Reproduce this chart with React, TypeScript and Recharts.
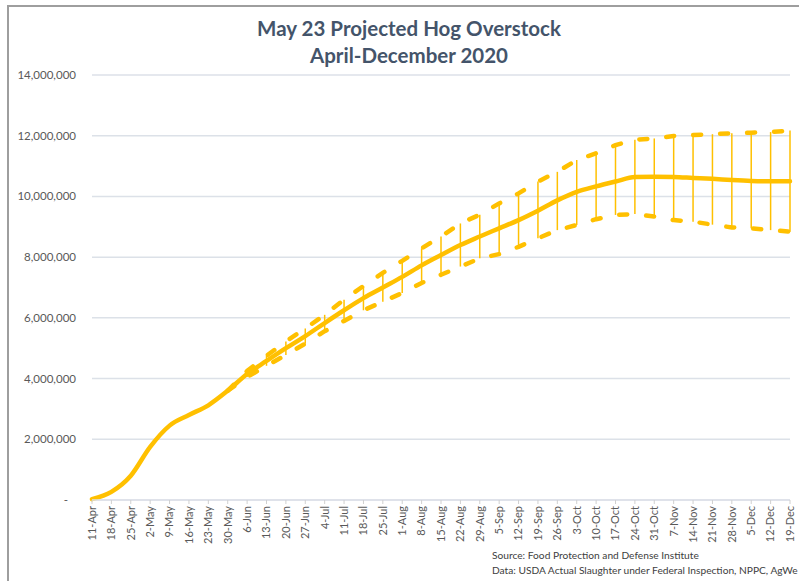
import { LineChart, Line, XAxis, YAxis, CartesianGrid, ErrorBar } from 'recharts';

const weeks = [
  '11-Apr', '18-Apr', '25-Apr', '2-May', '9-May', '16-May', '23-May', '30-May',
  '6-Jun', '13-Jun', '20-Jun', '27-Jun', '4-Jul', '11-Jul', '18-Jul', '25-Jul',
  '1-Aug', '8-Aug', '15-Aug', '22-Aug', '29-Aug', '5-Sep', '12-Sep', '19-Sep',
  '26-Sep', '3-Oct', '10-Oct', '17-Oct', '24-Oct', '31-Oct', '7-Nov', '14-Nov',
  '21-Nov', '28-Nov', '5-Dec', '12-Dec', '19-Dec',
];

// projected overstock (head)
const projected = [
  30000, 270000, 800000, 1750000, 2450000, 2800000, 3120000, 3600000,
  4150000, 4580000, 5000000, 5400000, 5830000, 6250000, 6650000, 7000000,
  7350000, 7730000, 8070000, 8400000, 8680000, 8950000, 9220000, 9530000,
  9870000, 10150000, 10330000, 10490000, 10640000, 10650000, 10640000, 10610000,
  10580000, 10540000, 10510000, 10500000, 10500000,
];

const upperBound = [
  null, null, null, null, null, null, null, 3600000,
  4250000, 4750000, 5220000, 5650000, 6100000, 6600000, 7050000, 7480000,
  7880000, 8290000, 8680000, 9110000, 9400000, 9770000, 10100000, 10490000,
  10810000, 11200000, 11420000, 11690000, 11870000, 11910000, 11990000, 12020000,
  12050000, 12080000, 12100000, 12120000, 12170000,
];

const lowerBound = [
  null, null, null, null, null, null, null, 3600000,
  4050000, 4420000, 4780000, 5150000, 5560000, 5900000, 6250000, 6530000,
  6820000, 7150000, 7420000, 7690000, 7960000, 8100000, 8340000, 8620000,
  8890000, 9060000, 9250000, 9390000, 9420000, 9340000, 9220000, 9170000,
  9070000, 8980000, 8950000, 8890000, 8840000,
];

const yTicks = [0, 2000000, 4000000, 6000000, 8000000, 10000000, 12000000, 14000000];

const GOLD = '#FFC000';
const FONT = 'Lato, "Open Sans", sans-serif';

const data = weeks.map((week, i) => {
  const hi = upperBound[i];
  const lo = lowerBound[i];
  return {
    week,
    projected: projected[i],
    upper: hi,
    lower: lo,
    range: hi != null && lo != null ? [projected[i] - lo, hi - projected[i]] : [0, 0],
  };
});

const YTick = ({ x, y, payload }: any) => {
  const v = payload.value as number;
  return (
    <text x={v === 0 ? x - 8 : x} y={y} dy="0.35em" textAnchor="end" fontSize={11.5} fill="#595959" fontFamily={FONT}>
      {v === 0 ? '-' : v.toLocaleString('en-US')}
    </text>
  );
};

const XTick = ({ x, y, payload }: any) => (
  <text
    transform={`translate(${x},${y}) rotate(-90)`}
    dy="0.35em"
    textAnchor="end"
    fontSize={11}
    fill="#595959"
    fontFamily={FONT}
  >
    {payload.value}
  </text>
);

export default function App() {
  return (
    <div style={{ position: 'fixed', left: 0, top: 0, width: 799, height: 581, overflow: 'hidden', background: '#fff', fontFamily: FONT }}>
      <div style={{ position: 'absolute', left: 7, top: 5, right: 0, height: 2, background: '#9E9E9E' }} />
      <div style={{ position: 'absolute', left: 7, top: 5, bottom: 0, width: 2, background: '#9E9E9E' }} />
      <div style={{ position: 'absolute', left: 0, width: 818, top: 15, textAlign: 'center', color: '#44546A', fontWeight: 700, fontSize: 20.5, lineHeight: '27px' }}>
        <div>May 23 Projected Hog Overstock</div>
        <div>April-December 2020</div>
      </div>
      <div style={{ position: 'absolute', left: 0, top: 0 }}>
        <LineChart width={799} height={581} data={data} margin={{ top: 75, right: 9, bottom: 31, left: 8 }}>
          <CartesianGrid vertical={false} stroke="#DCE1E8" strokeWidth={1.5} />
          <XAxis
            dataKey="week"
            interval={0}
            height={50}
            axisLine={{ stroke: '#DCE1E8', strokeWidth: 1.5 }}
            tickLine={{ stroke: '#D0D0D0' }}
            tickSize={4}
            tick={<XTick />}
          />
          <YAxis
            domain={[0, 14000000]}
            ticks={yTicks}
            width={84}
            axisLine={false}
            tickLine={false}
            tickSize={0}
            tickMargin={16}
            tick={<YTick />}
          />
          <Line
            dataKey="upper"
            stroke={GOLD}
            strokeWidth={4.5}
            strokeDasharray="8 19"
            strokeLinecap="round"
            dot={false}
            activeDot={false}
            isAnimationActive={false}
          />
          <Line
            dataKey="lower"
            stroke={GOLD}
            strokeWidth={4.5}
            strokeDasharray="8 19"
            strokeLinecap="round"
            dot={false}
            activeDot={false}
            isAnimationActive={false}
          />
          <Line
            type="monotone"
            dataKey="projected"
            stroke={GOLD}
            strokeWidth={4.5}
            strokeLinecap="round"
            dot={false}
            activeDot={false}
            isAnimationActive={false}
          >
            <ErrorBar dataKey="range" width={0} stroke={GOLD} strokeWidth={1.5} direction="y" isAnimationActive={false} />
          </Line>
        </LineChart>
      </div>
      <div style={{ position: 'absolute', left: 492, top: 548, fontSize: 10.2, lineHeight: '15px', color: '#404040', whiteSpace: 'nowrap' }}>
        <div>Source: Food Protection and Defense Institute</div>
        <div>Data: USDA Actual Slaughter under Federal Inspection, NPPC, AgWe</div>
      </div>
    </div>
  );
}
